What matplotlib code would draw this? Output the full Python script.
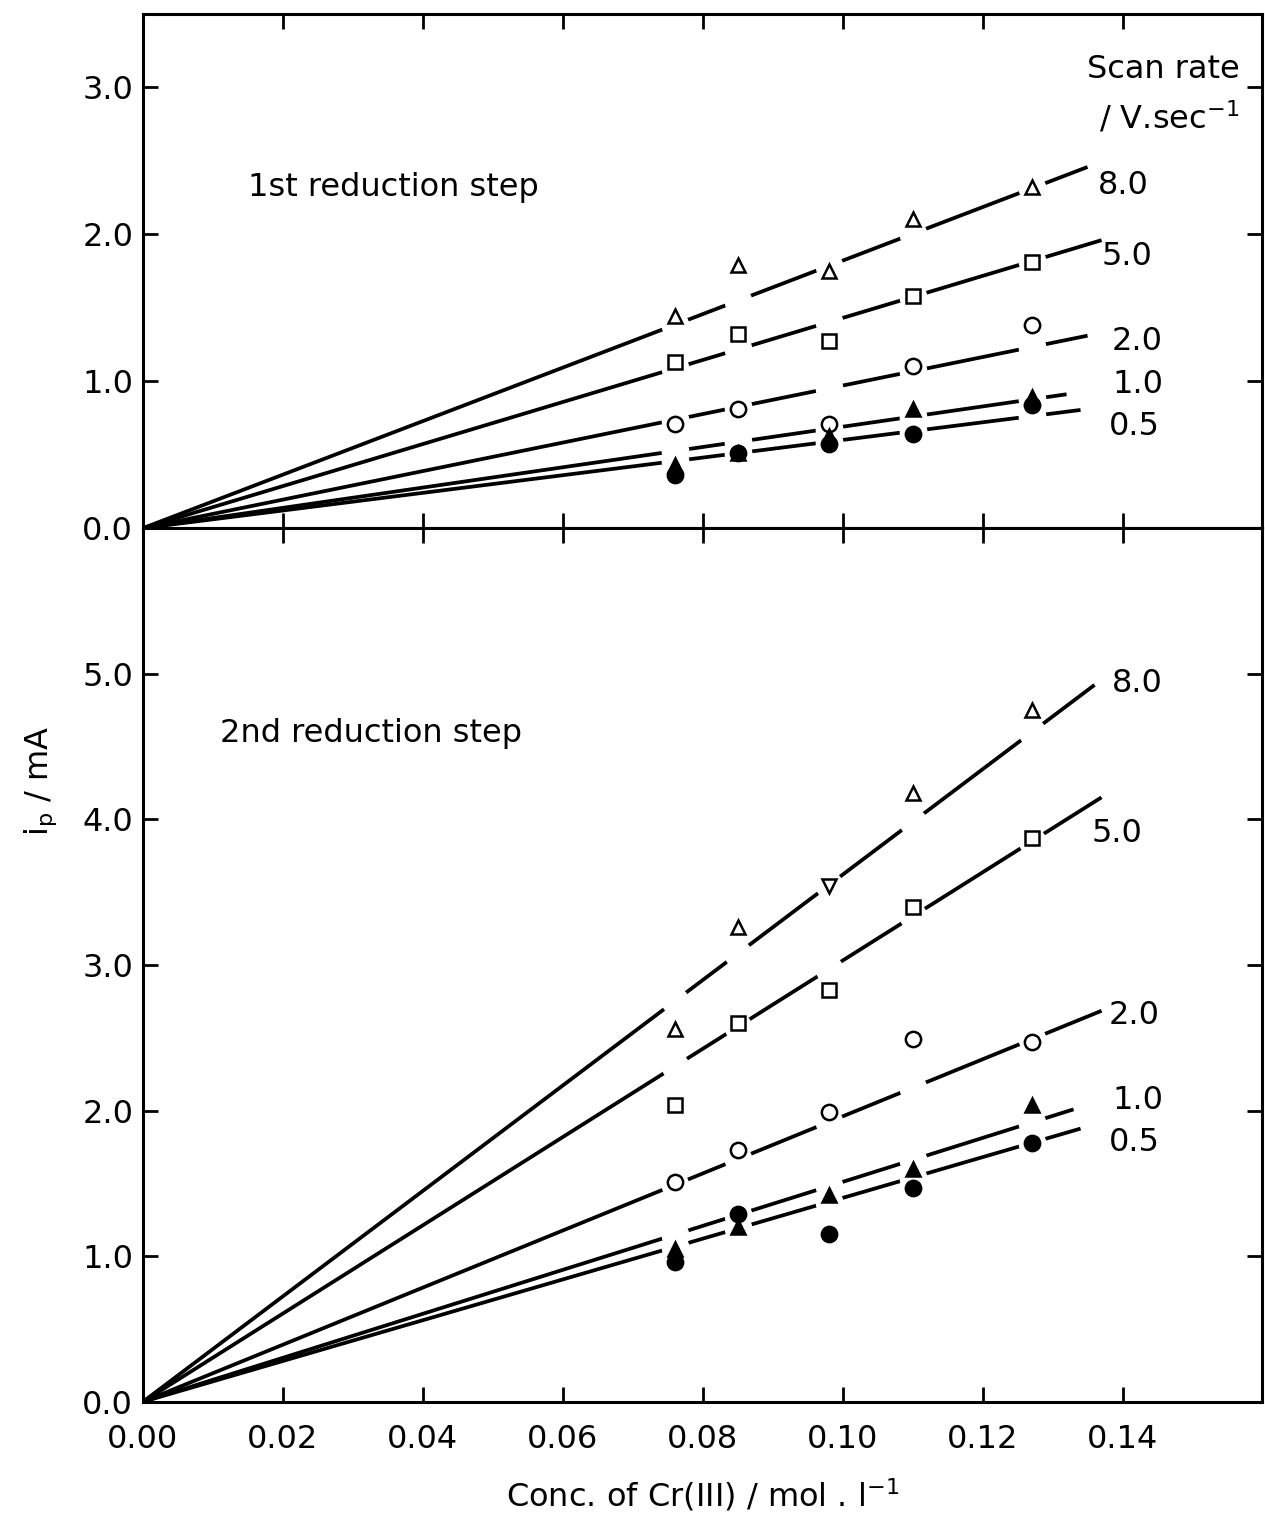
import numpy as np
import matplotlib
matplotlib.use('Agg')
from matplotlib import pyplot as plt

# Concentrations of Cr(III) / mol l-1
conc = [0.076, 0.085, 0.098, 0.110, 0.127]
rates = ['8.0', '5.0', '2.0', '1.0', '0.5']

# 1st reduction step, ip / mA
first_80 = [1.44, 1.79, 1.75, 2.10, 2.32]
first_50 = [1.13, 1.32, 1.27, 1.58, 1.81]
first_20 = [0.71, 0.81, 0.71, 1.10, 1.38]
first_10 = [0.43, 0.51, 0.63, 0.81, 0.89]
first_05 = [0.36, 0.51, 0.57, 0.64, 0.84]
first_slopes = [18.2, 14.3, 9.7, 6.9, 6.0]
first_ends = [0.135, 0.137, 0.135, 0.132, 0.134]

# 2nd reduction step, ip / mA
second_80 = [2.56, 3.26, 3.54, 4.18, 4.75]
second_50 = [2.04, 2.60, 2.83, 3.40, 3.87]
second_20 = [1.51, 1.73, 1.99, 2.49, 2.47]
second_10 = [1.05, 1.20, 1.42, 1.60, 2.04]
second_05 = [0.96, 1.29, 1.15, 1.47, 1.78]
second_slopes = [36.2, 30.3, 19.6, 15.1, 14.0]
second_ends = [0.136, 0.137, 0.137, 0.133, 0.134]

# marker per scan rate
styles = [('^', 'white'), ('s', 'white'), ('o', 'white'), ('^', 'black'), ('o', 'black')]
# the 8.0 series of the 2nd step has one inverted triangle
second_80_markers = ['^', '^', 'v', '^', '^']


def draw_panel(ax, series, slopes, ends, label_pos, markers=None):
    for i, ys in enumerate(series):
        xl = np.array([0.0, ends[i]])
        ax.plot(xl, slopes[i] * xl, color='black', lw=2.7, zorder=2,
                solid_capstyle='butt')
        # white gaps where the line meets the data columns
        xc = np.array(conc)
        ax.plot(xc, slopes[i] * xc, ls='none', marker='o', ms=19,
                mfc='white', mec='white', zorder=3)
    for i, ys in enumerate(series):
        m, fc = styles[i]
        ms = [m] * len(conc)
        if markers is not None and i in markers:
            ms = markers[i]
        for x, y, mk in zip(conc, ys, ms):
            ax.plot([x], [y], ls='none', marker=mk, ms=10 if mk != 'o' else 11,
                    mfc=fc, mec='black', mew=1.8, zorder=4)
    for i, (lx, ly) in enumerate(label_pos):
        ax.text(lx, ly, rates[i], fontsize=23, va='center', ha='left')


def style_axes(ax, ymax, yticks):
    ax.set_xlim(0, 0.16)
    ax.set_ylim(0, ymax)
    ax.set_xticks(np.arange(0, 0.141, 0.02))
    ax.set_yticks(yticks)
    ax.set_yticklabels(['%.1f' % t for t in yticks])
    ax.tick_params(direction='in', length=11, width=2, top=True, right=True,
                   labelsize=23, pad=7)
    for s in ax.spines.values():
        s.set_linewidth(2.2)


fig = plt.figure(figsize=(12.65, 15.22), dpi=100)
ax1 = fig.add_axes([0.113, 0.653, 0.885, 0.338])
ax2 = fig.add_axes([0.113, 0.079, 0.885, 0.574])

draw_panel(ax1, [first_80, first_50, first_20, first_10, first_05],
           first_slopes, first_ends,
           [(0.1365, 2.33), (0.1370, 1.85), (0.1385, 1.27), (0.1385, 0.98), (0.1380, 0.69)])
draw_panel(ax2, [second_80, second_50, second_20, second_10, second_05],
           second_slopes, second_ends,
           [(0.1385, 4.93), (0.1355, 3.90), (0.1380, 2.65), (0.1385, 2.07), (0.1380, 1.78)],
           markers={0: second_80_markers})

style_axes(ax1, 3.5, [0.0, 1.0, 2.0, 3.0])
style_axes(ax2, 6.0, [0.0, 1.0, 2.0, 3.0, 4.0, 5.0])
ax1.tick_params(labelbottom=False)
ax2.tick_params(axis='x', pad=16)
ax2.set_xticklabels(['%.2f' % t for t in np.arange(0, 0.141, 0.02)])

ax1.text(0.015, 2.32, '1st reduction step', fontsize=23, va='center')
ax2.text(0.011, 4.59, '2nd reduction step', fontsize=23, va='center')
ax1.text(0.1567, 3.12, 'Scan rate', fontsize=23, ha='right', va='center')
ax1.text(0.1567, 2.79, r'/ V.sec$^{-1}$', fontsize=23, ha='right', va='center')

ax2.set_xlabel(r'Conc. of Cr(III) / mol . l$^{-1}$', fontsize=23, labelpad=16)
fig.text(0.032, 0.487, r'i$_\mathregular{p}$ / mA', fontsize=23, rotation=90,
         ha='center', va='center')

fig.savefig('out.png', dpi=100)
